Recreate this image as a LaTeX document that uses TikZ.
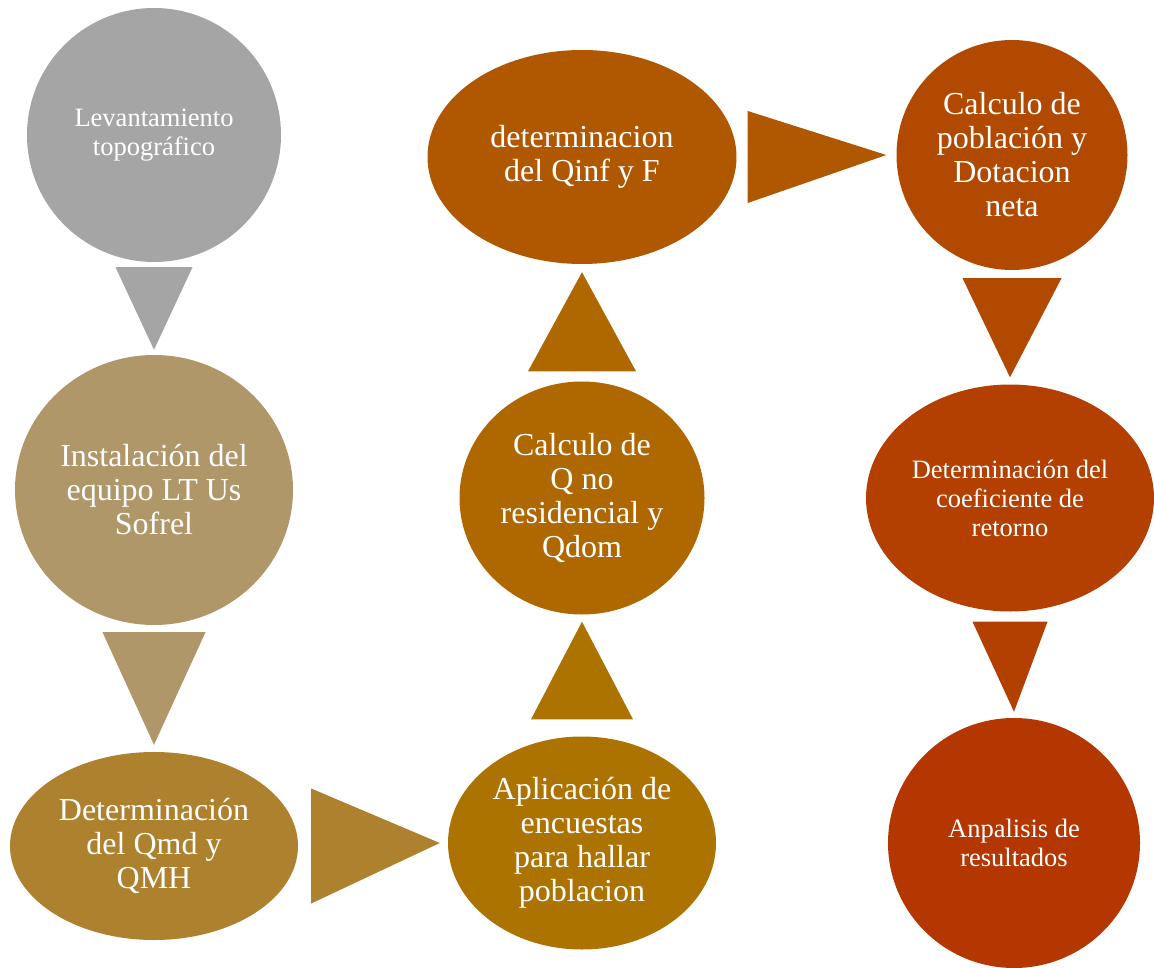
\documentclass[tikz,border=0pt]{standalone}
\usepackage{fontspec}
\setmainfont{Liberation Serif}
\usetikzlibrary{shapes.geometric,calc}
\definecolor{stA}{HTML}{A5A5A5}
\definecolor{stB}{HTML}{AF976A}
\definecolor{stC}{HTML}{AE812E}
\definecolor{stD}{HTML}{AD7300}
\definecolor{stE}{HTML}{AF6700}
\definecolor{stF}{HTML}{B05800}
\definecolor{stG}{HTML}{B14A00}
\definecolor{stH}{HTML}{B34000}
\definecolor{stI}{HTML}{B43600}

\begin{document}
\begin{tikzpicture}[
  x=1pt, y=-1pt,
  stage/.style={ellipse, inner sep=0pt, align=center, text=white},
  big/.style={font=\fontsize{32}{34}\selectfont},
  small/.style={font=\fontsize{26.5}{29}\selectfont},
]
\useasboundingbox (0,0) rectangle (1154,968);
\node[stage, small, fill=stA, minimum width=254pt, minimum height=254pt] (A) at (154,135)
  {Levantamiento\\topográfico};
\node[stage, big, fill=stB, minimum width=278pt, minimum height=270pt] (B) at (154,490)
  {Instalación del\\equipo LT Us\\Sofrel};
\node[stage, big, fill=stC, minimum width=288pt, minimum height=188pt] (C) at (154,846)
  {Determinación\\del Qmd y\\QMH};
\node[stage, big, fill=stD, minimum width=268pt, minimum height=213pt] (D) at (582,843)
  {Aplicación de\\encuestas\\para hallar\\poblacion};
\node[stage, big, fill=stE, minimum width=245pt, minimum height=233pt] (E) at (582,498)
  {Calculo de\\Q no\\residencial y\\Qdom};
\node[stage, big, fill=stF, minimum width=309pt, minimum height=214pt] (F) at (582,157)
  {determinacion\\del Qinf y F};
\node[stage, big, fill=stG, minimum width=231pt, minimum height=230pt] (G) at (1012,155)
  {Calculo de\\población y\\Dotacion\\neta};
\node[stage, small, fill=stH, minimum width=288pt, minimum height=227pt] (H) at (1010,498)
  {Determinación del\\coeficiente de\\retorno};
\node[stage, small, fill=stI, minimum width=252pt, minimum height=250pt] (I) at (1014,843)
  {Anpalisis de\\resultados};
% triangles between the stages
\foreach \a/\b/\w/\ga/\gb/\c in {A/B/38.5/5/5/stA, B/C/51.5/7/7/stB,
                                 G/H/49.5/8/7/stG, H/I/37.5/10/6/stH}
  \fill[\c] ($(\a.south)+(-\w,\ga)$) -- ($(\a.south)+(\w,\ga)$)
            -- ($(\b.north)+(0,-\gb)$) -- cycle;
\foreach \a/\b/\w/\ga/\gb/\c in {D/E/51/17/7/stD, E/F/54/10/8/stE}
  \fill[\c] ($(\a.north)+(-\w,-\ga)$) -- ($(\a.north)+(\w,-\ga)$)
            -- ($(\b.south)+(0,\gb)$) -- cycle;
\foreach \a/\b/\w/\ga/\gb/\c in {C/D/57.5/13/8/stC, F/G/46/11/10/stF}
  \fill[\c] ($(\a.east)+(\ga,-\w)$) -- ($(\a.east)+(\ga,\w)$)
            -- ($(\b.west)+(-\gb,0)$) -- cycle;
\end{tikzpicture}
\end{document}
